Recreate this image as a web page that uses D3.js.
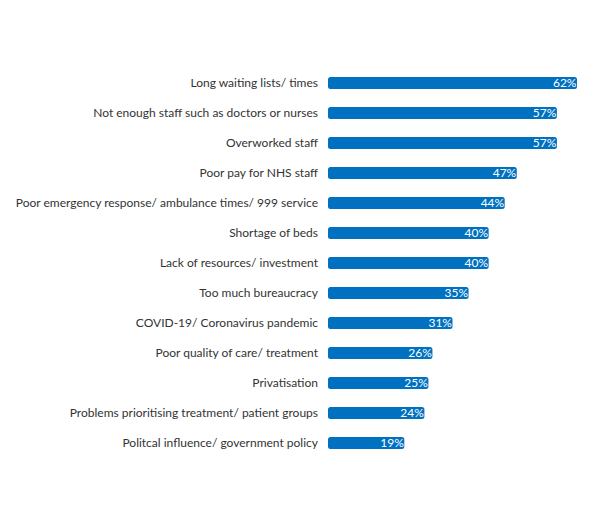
<!DOCTYPE html>
<html><head><meta charset="utf-8">
<script src="https://cdn.jsdelivr.net/npm/d3@7"></script>
<style>body{margin:0;background:#fff;}svg text{font-family:Lato,"Open Sans",sans-serif;}</style>
</head><body><svg id="c" width="600" height="527"></svg>
<script>
const categories = [
  "Long waiting lists/ times",
  "Not enough staff such as doctors or nurses",
  "Overworked staff",
  "Poor pay for NHS staff",
  "Poor emergency response/ ambulance times/ 999 service",
  "Shortage of beds",
  "Lack of resources/ investment",
  "Too much bureaucracy",
  "COVID-19/ Coronavirus pandemic",
  "Poor quality of care/ treatment",
  "Privatisation",
  "Problems prioritising treatment/ patient groups",
  "Politcal influence/ government policy"
];
const values = [62, 57, 57, 47, 44, 40, 40, 35, 31, 26, 25, 24, 19];

const svg = d3.select("#c");
const x = d3.scaleLinear().domain([0, 62]).range([328, 577]);
const y = d3.scaleBand().domain(categories).range([68, 458]).paddingInner(0.6).paddingOuter(0.3);

const g = svg.append("g");
g.selectAll("rect").data(values).join("rect")
  .attr("x", x(0))
  .attr("y", (d,i) => y(categories[i]) + y.bandwidth()/2 - 6)
  .attr("width", d => x(d) - x(0))
  .attr("height", 12)
  .attr("rx", 2.5)
  .attr("fill", "#0070C0");

g.selectAll("text.v").data(values).join("text")
  .attr("class","v")
  .attr("x", d => x(d) - 0.5)
  .attr("y", (d,i) => y(categories[i]) + y.bandwidth()/2)
  .attr("dy", "0.36em")
  .attr("text-anchor","end")
  .attr("fill","#fff")
  .attr("font-size", 12)
  .text(d => d + "%");

g.selectAll("text.c").data(categories).join("text")
  .attr("class","c")
  .attr("x", 318)
  .attr("y", d => y(d) + y.bandwidth()/2)
  .attr("dy", "0.36em")
  .attr("text-anchor","end")
  .attr("fill","#333")
  .attr("font-size", 12)
  .text(d => d);
</script></body></html>
